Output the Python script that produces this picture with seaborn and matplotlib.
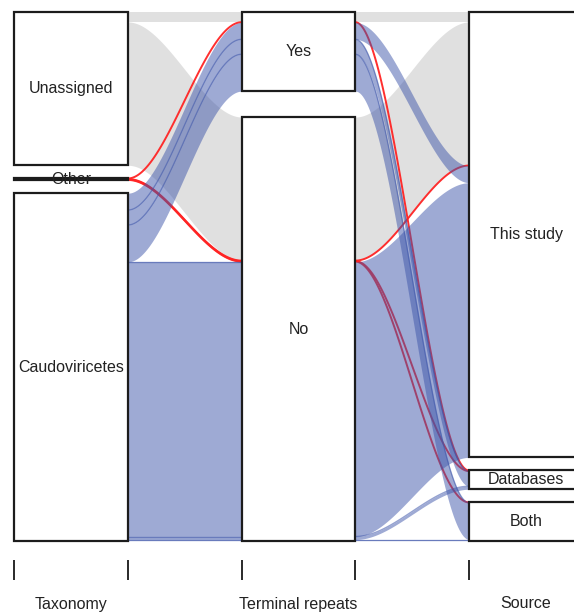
import numpy as np
import pandas as pd
import seaborn as sns
import matplotlib.pyplot as plt
from matplotlib.patches import Rectangle

# Alluvia: one row per taxonomy / terminal repeats / source combination
taxonomy = ["Unassigned", "Unassigned",
            "Other", "Other", "Other", "Other",
            "Caudoviricetes", "Caudoviricetes", "Caudoviricetes",
            "Caudoviricetes", "Caudoviricetes", "Caudoviricetes"]
repeats = ["Yes", "No",
           "Yes", "No", "No", "No",
           "Yes", "Yes", "Yes",
           "No", "No", "No"]
source = ["This study", "This study",
          "Databases", "This study", "Databases", "Both",
          "This study", "Databases", "Both",
          "This study", "Databases", "Both"]
counts = [20, 288,
          1, 1, 1, 1,
          34, 30, 74,
          552, 6, 3]

axis_names = ["Taxonomy", "Terminal repeats", "Source"]
axis_levels = [["Unassigned", "Other", "Caudoviricetes"],
               ["Yes", "No"],
               ["This study", "Databases", "Both"]]

df = pd.DataFrame({"Taxonomy": taxonomy, "Terminal repeats": repeats,
                   "Source": source, "n": counts})
for var, levels in zip(axis_names, axis_levels):
    df[var] = pd.Categorical(df[var], categories=levels, ordered=True)

sns.set_theme(style="white")
plt.rcParams["font.family"] = ["Liberation Sans", "DejaVu Sans"]

fill = {"Unassigned": "#c2c2c2", "Other": "#ff2424", "Caudoviricetes": "#3e56aa"}

total = df["n"].sum()
gap_total = 0.0515 * total
height = total + gap_total
width = 0.5

# stack lodes on every axis
lodes = {}
prev = {}
strata = []
for k, var in enumerate(axis_names):
    others = [v for v in axis_names if v != var]
    gap = gap_total / (len(axis_levels[k]) - 1)
    y = height
    for lev in axis_levels[k]:
        sub = df[df[var] == lev].sort_values(others)
        top = y
        last = None
        for i, row in sub.iterrows():
            lodes[(k, i)] = (y, y - row["n"])
            prev[(k, i)] = last
            last = i
            y -= row["n"]
        strata.append((k, lev, top, y))
        y -= gap

fig = plt.figure(figsize=(5.74, 6.12), dpi=100)
ax = fig.add_axes([0, 0, 1, 1])

t = np.linspace(0, 1, 80)
f = 3 * t ** 2 - 2 * t ** 3

order = ["Unassigned", "Other", "Caudoviricetes"]
for tax in order:
    for k in range(2):
        xs = k + 1 + width / 2 + t * (1 - width)
        for i in df.index[df["Taxonomy"] == tax]:
            t0, b0 = lodes[(k, i)]
            t1, b1 = lodes[(k + 1, i)]
            top = t0 + (t1 - t0) * f
            bot = b0 + (b1 - b0) * f
            if tax == "Other":
                ax.plot(xs, (top + bot) / 2, color=fill[tax], lw=1.4,
                        alpha=0.95, solid_capstyle="butt", zorder=2)
                continue
            ax.fill_between(xs, bot, top, color=fill[tax], alpha=0.5,
                            lw=0, zorder=1 if tax == "Unassigned" else 3)
            p = prev[(k, i)]
            if tax == "Caudoviricetes" and p is not None and df.loc[p, "Taxonomy"] == tax:
                ax.plot(xs, top, color=fill[tax], lw=1.0, alpha=0.55, zorder=3)

# stratum boxes and labels
for k, lev, top, bot in strata:
    ax.add_patch(Rectangle((k + 1 - width / 2, bot), width, top - bot,
                           facecolor="white", edgecolor="#1c1c1c", lw=1.6, zorder=5))
    ax.text(k + 1, (top + bot) / 2, lev, ha="center", va="center",
            fontsize=11.5, color="#222222", zorder=6)

s = height / 529
ax.vlines([k + 1 + d for k in range(3) for d in (-width / 2, width / 2)],
          -19 * s, -39 * s, color="#2a2a2a", lw=1.4)
for k, name in enumerate(axis_names):
    ax.text(k + 1, -63 * s, name, ha="center", va="center",
            fontsize=11.5, color="#222222")

ax.set_xlim(1 - 71 / 227.5, 1 + 503 / 227.5)
ax.set_ylim(-71 * s, height + 12 * s)
ax.axis("off")

fig.savefig("out.png", dpi=100)
